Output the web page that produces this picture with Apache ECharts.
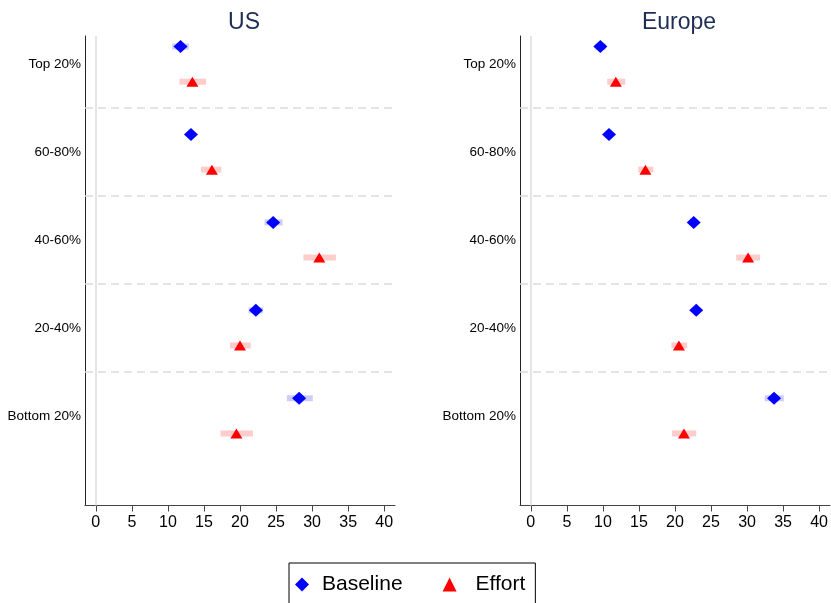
<!DOCTYPE html>
<html>
<head>
<meta charset="utf-8">
<script src="https://cdn.jsdelivr.net/npm/echarts@6/dist/echarts.min.js"></script>
<style>
html,body{margin:0;padding:0;background:#fff;}
#chart{width:831px;height:603px;}
</style>
</head>
<body>
<div id="chart"></div>
<script>
const categories = ['Top 20%', '60-80%', '40-60%', '20-40%', 'Bottom 20%'];
const xTicks = [0, 5, 10, 15, 20, 25, 30, 35, 40];
const panelTitles = ['US', 'Europe'];

const usBaseline   = [11.75, 13.2, 24.6, 22.2, 28.2];
const usBaselineLo = [10.6, 12.7, 23.4, 21.2, 26.5];
const usBaselineHi = [12.9, 13.7, 25.9, 23.2, 30.1];
const usEffort     = [13.4, 16.1, 31.0, 20.0, 19.5];
const usEffortLo   = [11.6, 14.6, 28.8, 18.6, 17.3];
const usEffortHi   = [15.3, 17.4, 33.3, 21.5, 21.8];

const euBaseline   = [9.65, 10.85, 22.6, 22.95, 33.75];
const euBaselineLo = [8.9, 10.4, 22.1, 22.5, 32.45];
const euBaselineHi = [10.4, 11.3, 23.1, 23.4, 35.1];
const euEffort     = [11.8, 15.9, 30.15, 20.55, 21.25];
const euEffortLo   = [10.6, 14.9, 28.5, 19.5, 19.6];
const euEffortHi   = [13.1, 17.0, 31.8, 21.7, 22.95];

const FONT = 'Liberation Sans, Arial, Helvetica, sans-serif';
const ROW_OFF = 0.2;
const rowPos = categories.map((c, i) => i + 1);

function pts(vals, off) { return vals.map((v, i) => [v, rowPos[i] + off]); }
function ci(lo, hi, off) { return lo.map((l, i) => [l, hi[i], rowPos[i] + off]); }

function ciSeries(name, idx, lo, hi, off, color) {
  return {
    type: 'custom', name: name, xAxisIndex: idx, yAxisIndex: idx, silent: true, z: 2,
    encode: { x: [0, 1], y: 2 },
    data: ci(lo, hi, off),
    renderItem: function (params, api) {
      const a = api.coord([api.value(0), api.value(2)]);
      const b = api.coord([api.value(1), api.value(2)]);
      return { type: 'rect', shape: { x: a[0], y: a[1] - 3, width: b[0] - a[0], height: 6 }, style: { fill: color } };
    }
  };
}

function gridLines() {
  return {
    silent: true, symbol: 'none', label: { show: false },
    data: [
      { xAxis: 0, lineStyle: { type: 'solid', color: '#dcdcdc', width: 1.5 } },
      { yAxis: 1.5 }, { yAxis: 2.5 }, { yAxis: 3.5 }, { yAxis: 4.5 }
    ],
    lineStyle: { type: [8, 5], color: '#dcdcdc', width: 1.5 }
  };
}

function scatter(name, idx, vals, off, symbol, size, color, withLines) {
  const s = {
    type: 'scatter', name: name, xAxisIndex: idx, yAxisIndex: idx, z: 5,
    symbol: symbol, symbolSize: size,
    itemStyle: { color: color, opacity: 1 },
    data: pts(vals, off)
  };
  if (withLines) s.markLine = gridLines();
  return s;
}

function xAxis(idx) {
  return {
    type: 'value', gridIndex: idx, min: -1.5, max: 41.5,
    splitLine: { show: false },
    axisLine: { show: true, onZero: false, lineStyle: { color: '#444', width: 1 } },
    axisTick: { show: true, length: 6, customValues: xTicks, lineStyle: { color: '#444' } },
    axisLabel: { customValues: xTicks, margin: 9, fontSize: 16, color: '#000', fontFamily: FONT }
  };
}
function yAxis(idx) {
  return {
    type: 'value', gridIndex: idx, min: 0.68, max: 6.02, inverse: true,
    splitLine: { show: false },
    axisLine: { show: true, onZero: false, lineStyle: { color: '#222', width: 1 } },
    axisTick: { show: false },
    axisLabel: {
      customValues: rowPos, margin: 4, fontSize: 13.5, color: '#000', fontFamily: FONT,
      formatter: function (v) { return categories[Math.round(v) - 1] || ''; }
    }
  };
}

const option = {
  backgroundColor: '#fff',
  animation: false,
  textStyle: { fontFamily: FONT },
  title: [
    { text: panelTitles[0], left: 239, top: 6, textAlign: 'center', textStyle: { fontSize: 23, fontWeight: 'normal', color: '#1e2d55', fontFamily: FONT } },
    { text: panelTitles[1], left: 674, top: 6, textAlign: 'center', textStyle: { fontSize: 23, fontWeight: 'normal', color: '#1e2d55', fontFamily: FONT } }
  ],
  grid: [
    { left: 85, top: 36, width: 310, height: 469.5 },
    { left: 520, top: 36, width: 310, height: 469.5 }
  ],
  xAxis: [xAxis(0), xAxis(1)],
  yAxis: [yAxis(0), yAxis(1)],
  legend: {
    data: [
      { name: 'Baseline', icon: 'diamond', textStyle: { padding: [0, 0, 0, 8] } },
      { name: 'Effort', icon: 'triangle', textStyle: { padding: [0, 0, 0, 14] } }
    ],
    left: 289, top: 563, orient: 'horizontal',
    itemWidth: 14, itemHeight: 14, itemGap: 40,
    padding: [11, 10, 11, 6],
    borderColor: '#000', borderWidth: 1,
    textStyle: { fontSize: 21, color: '#000', fontFamily: FONT },
    selectedMode: false
  },
  series: [
    ciSeries('Baseline CI', 0, usBaselineLo, usBaselineHi, -ROW_OFF, 'rgba(0,0,255,0.2)'),
    ciSeries('Effort CI', 0, usEffortLo, usEffortHi, ROW_OFF, 'rgba(255,0,0,0.2)'),
    ciSeries('Baseline CI', 1, euBaselineLo, euBaselineHi, -ROW_OFF, 'rgba(0,0,255,0.2)'),
    ciSeries('Effort CI', 1, euEffortLo, euEffortHi, ROW_OFF, 'rgba(255,0,0,0.2)'),
    scatter('Baseline', 0, usBaseline, -ROW_OFF, 'diamond', [14, 13], '#0000ff', true),
    scatter('Effort', 0, usEffort, ROW_OFF, 'triangle', [12, 10], '#ff0000', false),
    scatter('Baseline', 1, euBaseline, -ROW_OFF, 'diamond', [14, 13], '#0000ff', true),
    scatter('Effort', 1, euEffort, ROW_OFF, 'triangle', [12, 10], '#ff0000', false)
  ]
};

const chart = echarts.init(document.getElementById('chart'), null, { renderer: 'canvas' });
chart.setOption(option);
</script>
</body>
</html>
